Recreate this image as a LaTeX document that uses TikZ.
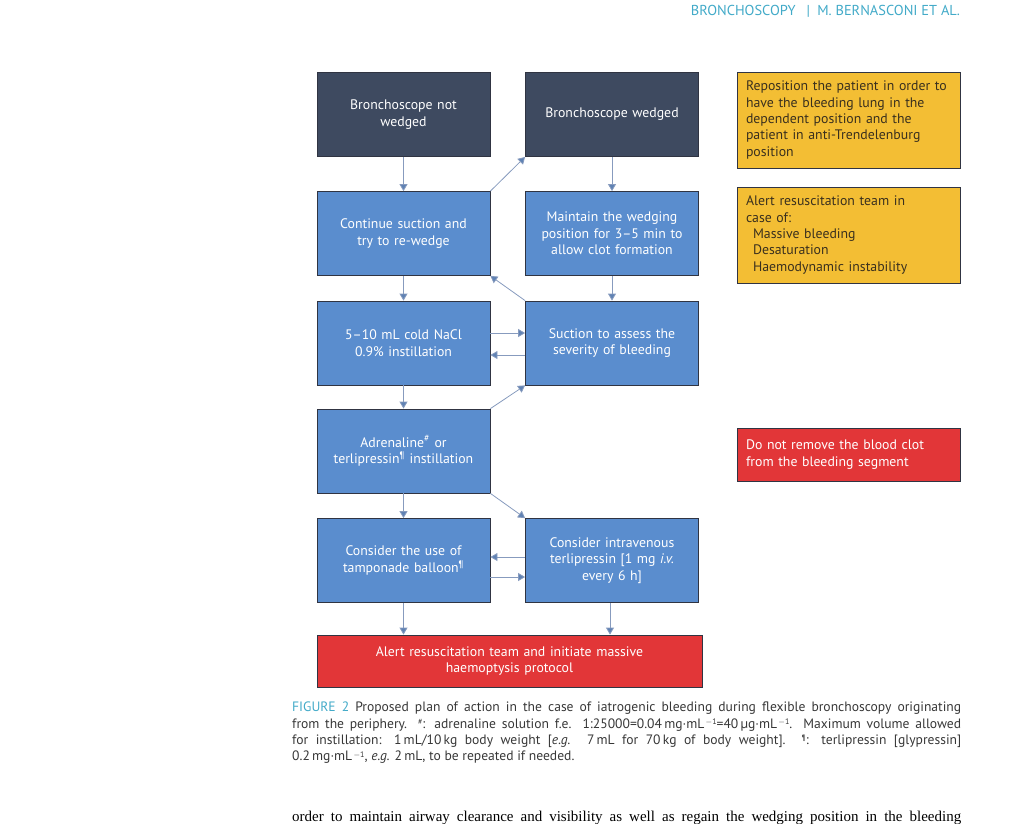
\documentclass[tikz,border=0pt]{standalone}
\usepackage{fontspec}
\setmainfont{PT Sans}
\newfontfamily\bodyserif{Liberation Serif}
\usetikzlibrary{arrows.meta}
\definecolor{navybox}{RGB}{62,74,96}
\definecolor{bluebox}{RGB}{90,141,206}
\definecolor{redbox}{RGB}{226,54,56}
\definecolor{yellowbox}{RGB}{243,190,52}
\definecolor{boxline}{RGB}{48,52,66}
\definecolor{notetext}{RGB}{58,48,30}
\definecolor{arrowline}{RGB}{135,155,190}
\definecolor{arrowhead}{RGB}{95,130,180}
\definecolor{tealhead}{RGB}{66,170,200}
\definecolor{captext}{RGB}{55,55,55}
\newcommand{\capmark}[1]{\raisebox{0.5ex}{\fontsize{8}{8}\selectfont #1}}
\newcommand{\perunit}{\capmark{\,$-$1}}
\begin{document}
\begin{tikzpicture}[x=1pt,y=-1pt,
   font=\fontsize{13.8}{16.4}\selectfont,
   box/.style={draw=boxline,line width=0.8pt,minimum width=173pt,
      minimum height=84pt,inner sep=0pt,text width=168pt,align=center,
      text=white},
   darkbox/.style={box,fill=navybox},
   bluebox/.style={box,fill=bluebox},
   notebox/.style={draw=boxline,line width=0.8pt,fill=yellowbox,
      minimum width=223pt,inner xsep=9pt,inner ysep=0pt,text width=205pt,
      align=left,text=notetext},
   flow/.style={draw=arrowline,line width=0.8pt,
      -{Triangle[width=8pt,length=7pt,fill=arrowhead]}}]
   \useasboundingbox (0,0) rectangle (1024,823);
   % header
   \node[anchor=base east,text=tealhead,font=\fontsize{14.4}{16}\selectfont]
      (head) at (963.5,15) {BRONCHOSCOPY \enspace|\enspace M. BERNASCONI ET AL.};
   % left and middle columns
   \node[darkbox] (notwedged) at (403.5,114.5) {Bronchoscope not\\wedged};
   \node[darkbox] (wedged) at (612,114.5) {Bronchoscope wedged};
   \node[bluebox] (rewedge) at (403.5,233.5) {Continue suction and\\try to re-wedge};
   \node[bluebox] (maintain) at (612,233.5)
      {Maintain the wedging\\position for 3--5 min to\\allow clot formation};
   \node[bluebox] (nacl) at (403.5,343) {5--10 mL cold NaCl\\0.9\% instillation};
   \node[bluebox] (suction) at (612,343) {Suction to assess the\\severity of bleeding};
   \node[bluebox] (adrenaline) at (403.5,451)
      {Adrenaline\textsuperscript{\#} or\\terlipressin\textsuperscript{\P} instillation};
   \node[bluebox] (balloon) at (403.5,560.5)
      {Consider the use of\\tamponade balloon\textsuperscript{\P}};
   \node[bluebox] (intravenous) at (612,560.5)
      {Consider intravenous\\terlipressin [1 mg \textit{i.v.}\\every 6 h]};
   \node[box,fill=redbox,minimum width=385pt,minimum height=52pt,text width=370pt]
      (protocol) at (509.5,661)
      {Alert resuscitation team and initiate massive\\haemoptysis protocol};
   % right column
   \node[notebox,minimum height=96pt] (reposition) at (848.5,120)
      {Reposition the patient in order to\\have the bleeding lung in the\\dependent position and the\\patient in anti-Trendelenburg\\position};
   \node[notebox,minimum height=96pt] (alert) at (848.5,235)
      {Alert resuscitation team in\\case of:\\\hspace*{7pt}Massive bleeding\\\hspace*{7pt}Desaturation\\\hspace*{7pt}Haemodynamic instability};
   \node[notebox,fill=redbox,text=white,minimum height=53pt] (clot) at (848.5,454.5)
      {Do not remove the blood clot\\from the bleeding segment};
   % arrows
   \draw[flow] (notwedged) -- (rewedge);
   \draw[flow] (rewedge.north east) -- (wedged.south west);
   \draw[flow] (wedged) -- (maintain);
   \draw[flow] (rewedge) -- (nacl);
   \draw[flow] (maintain) -- (suction);
   \draw[flow] (suction.north west) -- (rewedge.south east);
   \draw[flow] ([yshift=10pt]nacl.east) -- ([yshift=10pt]suction.west);
   \draw[flow] ([yshift=-12pt]suction.west) -- ([yshift=-12pt]nacl.east);
   \draw[flow] (nacl) -- (adrenaline);
   \draw[flow] (adrenaline.north east) -- (suction.south west);
   \draw[flow] (adrenaline) -- (balloon);
   \draw[flow] (adrenaline.south east) -- (intravenous.north west);
   \draw[flow] ([yshift=3.5pt]intravenous.west) -- ([yshift=3.5pt]balloon.east);
   \draw[flow] ([yshift=-16.5pt]balloon.east) -- ([yshift=-16.5pt]intravenous.west);
   \draw[flow] (balloon) -- (balloon |- protocol.north);
   \draw[flow] ([xshift=-2pt]intravenous.south) -- ([xshift=-2pt]intravenous.south |- protocol.north);
   % caption
   \node[anchor=north west,inner sep=0pt,text width=669pt,align=justify,
      text=captext,font=\fontsize{13.6}{16.2}\selectfont] (caption) at (292,702)
      {{\color{tealhead}FIGURE 2} Proposed plan of action in the case of iatrogenic bleeding during flexible bronchoscopy originating\linebreak
      from the periphery. \capmark{\#}: adrenaline solution f.e. 1:25000=0.04\,mg·mL\perunit=40\,µg·mL\perunit. Maximum volume allowed\linebreak
      for instillation: 1\,mL/10\,kg body weight [\textit{e.g.} 7\,mL for 70\,kg of body weight]. \capmark{\P}: terlipressin [glypressin]\linebreak
      0.2\,mg·mL\perunit, \textit{e.g.} 2\,mL, to be repeated if needed.};
   % body text
   \node[anchor=base west,inner sep=0pt,text=black,font=\bodyserif\fontsize{15}{18}\selectfont]
      (body) at (292,821)
      {\makebox[669pt][s]{order to maintain airway clearance and visibility as well as regain the wedging position in the bleeding}};
\end{tikzpicture}
\end{document}
